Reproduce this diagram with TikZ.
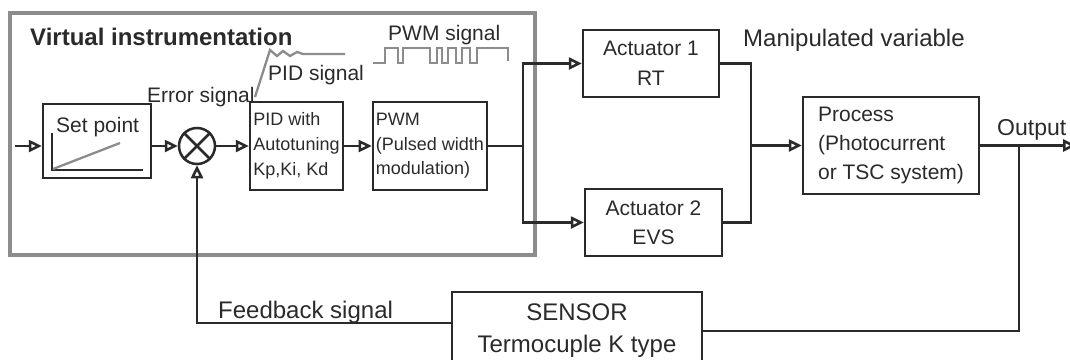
\documentclass[tikz,border=0pt]{standalone}
\usepackage{fontspec}
\setmainfont{Liberation Sans}
\usepackage{xcolor}
\usepackage{tikz}
\usetikzlibrary{arrows.meta,calc}

\definecolor{linea}{HTML}{2A2A2A}
\definecolor{marco}{HTML}{8C8C8C}

\begin{document}
\begin{tikzpicture}[x=1pt, y=-1pt,
    bloque/.style={draw=linea, line width=2.5pt, text=linea, inner sep=3pt},
    flujo/.style={draw=linea, line width=2.5pt},
    flecha/.style={flujo, -{Triangle[open, length=13pt, width=12pt]}},
    senal/.style={draw=marco, line width=2.3pt},
    etiq/.style={text=linea, font=\fontsize{21}{25}\selectfont, inner sep=0pt}]

  \useasboundingbox (0,0) rectangle (1070,359);

  % Marco de instrumentacion virtual
  \draw[marco, line width=3.2pt] (10,13) rectangle (535,255);
  \node[etiq, anchor=base west, font=\bfseries\fontsize{24}{28}\selectfont] (titulo) at (30,45) {Virtual instrumentation};

  % Bloques principales
  \node[bloque, minimum width=108pt, minimum height=74pt] (setp) at (97,141) {};
  \node[etiq, anchor=base west] (setptxt) at (56,132) {Set point};
  \node[circle, draw=linea, line width=2.5pt, minimum size=36pt, inner sep=0pt] (sum) at (197,146) {};
  \node[bloque, minimum width=93pt, minimum height=88pt, align=left, font=\fontsize{18}{25}\selectfont] (pid) at (296.5,146) {PID with\\Autotuning\\Kp,Ki, Kd};
  \node[bloque, minimum width=114pt, minimum height=88pt, align=left, font=\fontsize{18}{24.5}\selectfont] (pwm) at (430,146) {PWM\\(Pulsed width\\modulation)};
  \node[bloque, minimum width=136pt, minimum height=67pt, align=center, font=\fontsize{21}{30}\selectfont] (act1) at (651,63.5) {Actuator 1\\RT};
  \node[bloque, minimum width=137pt, minimum height=67pt, align=center, font=\fontsize{21}{29}\selectfont] (act2) at (653.5,222.5) {Actuator 2\\EVS};
  \node[bloque, minimum width=176pt, minimum height=97pt, align=left, font=\fontsize{21}{29}\selectfont] (proc) at (891,145.5) {Process\\(Photocurrent\\or TSC system)};
  \node[bloque, minimum width=250pt, minimum height=78pt, align=center, font=\fontsize{24}{32}\selectfont] (sensor) at (577,331) {SENSOR\\Termocuple K type};

  % Detalles de los bloques
  \draw[flujo] (sum.north west) -- (sum.south east) (sum.north east) -- (sum.south west);
  \draw[flujo] (52,133) -- (52,170) -- (143,170);
  \draw[senal] (53,169) -- (120,143);

  % Flechas del lazo directo
  \coordinate (entrada) at (15,146);
  \draw[flecha] (entrada) -- (entrada -| setp.west);
  \draw[flecha] (setp.east |- sum.west) -- (sum.west);
  \draw[flecha] (sum.east) -- (pid.west);
  \draw[flecha] (pid.east) -- (pwm.west);
  \coordinate (rama) at (523,146);
  \draw[flujo] (pwm.east) -- (rama);
  \draw[flecha] (rama) |- (act1.west);
  \draw[flecha] (rama) |- (act2.west);
  \coordinate (union) at (751,145.5);
  \draw[flujo] (act1.east) -| (union) |- (act2.east);
  \draw[flecha] (union) -- (proc.west);
  \coordinate (salida) at (1076,145.5);
  \coordinate (toma) at (1019,145.5);
  \draw[flecha] (proc.east) -- (salida);

  % Realimentacion
  \draw[flujo] (toma) |- (sensor.east);
  \draw[flecha] ($(sensor.west)+(0,-8)$) -| (sum.south);

  % Etiquetas de senales
  \node[etiq, anchor=base west] (error) at (147,102) {Error signal};
  \node[etiq, anchor=base west] (pidsig) at (268,80) {PID signal};
  \node[etiq, anchor=base west] (pwmsig) at (388,40) {PWM signal};
  \node[etiq, anchor=base west, font=\fontsize{24}{28}\selectfont] (manip) at (743,46) {Manipulated variable};
  \node[etiq, anchor=base west, font=\fontsize{23}{28}\selectfont] (outtxt) at (997,135) {Output};
  \node[etiq, anchor=base west, font=\fontsize{24}{28}\selectfont] (feedb) at (218,318) {Feedback signal};

  % Formas de onda
  \draw[senal] (255,97) -- (270,50) -- (277,56) -- (283,51) -- (290,56) -- (297,52) -- (303,54) -- (345,54);
  \draw[senal] (373,63) -- (385,63) -- (385,48) -- (398,48) -- (398,63) -- (403,63) -- (403,48)
    -- (430,48) -- (430,63) -- (437,63) -- (437,48) -- (442,48) -- (442,63) -- (448,63) -- (448,48)
    -- (456,48) -- (456,63) -- (462,63) -- (462,48) -- (470,48) -- (470,63) -- (477,63) -- (477,48)
    -- (508,48) -- (508,61);
\end{tikzpicture}
\end{document}
